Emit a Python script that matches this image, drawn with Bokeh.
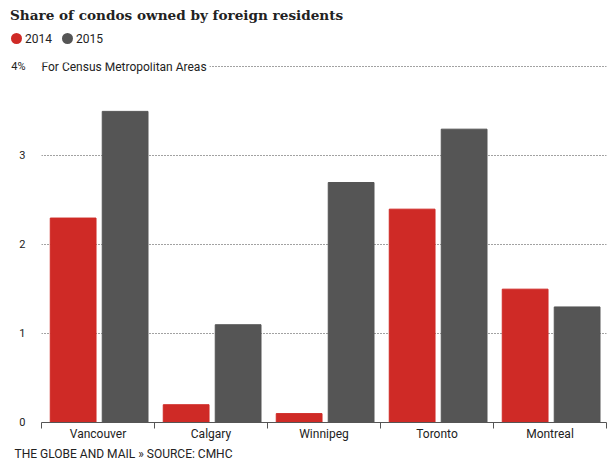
from bokeh.plotting import figure
from bokeh.layouts import column
from bokeh.models import (ColumnDataSource, Div, FixedTicker, Label, Range1d, Title)
from bokeh.embed import file_html
from bokeh.resources import INLINE

# ---- data ----
cities = ["Vancouver", "Calgary", "Winnipeg", "Toronto", "Montreal"]
share_2014 = [2.3, 0.2, 0.1, 2.4, 1.5]
share_2015 = [3.5, 1.1, 2.7, 3.3, 1.3]
years = ["2014", "2015"]
y_ticks = [0, 1, 2, 3, 4]
y_tick_labels = {0: "0", 1: "1", 2: "2", 3: "3", 4: "4%"}

RED = "#cf2a26"
GRAY = "#555555"
SANS = "Roboto"
W = 608

# ---- header (title + legend) as HTML ----
legend_html = ""
for i, (yr, col) in enumerate(zip(years, [RED, GRAY])):
    left = 11 + 51 * i
    legend_html += (
        f'<span style="position:absolute;left:{left}px;top:33px;width:11px;height:11px;'
        f'border-radius:50%;background:{col};"></span>'
        f'<span style="position:absolute;left:{left + 14}px;top:31px;line-height:16px;'
        f'font-family:Roboto;font-size:12px;color:#222222;white-space:nowrap;">{yr}</span>'
    )
header_html = (
    f'<div style="position:relative;width:{W}px;height:52px;">'
    '<span style="position:absolute;left:10px;top:6px;line-height:18px;'
    "font-family:'DejaVu Serif';font-weight:bold;font-size:13.6px;color:#222222;"
    'white-space:nowrap;">Share of condos owned by foreign residents</span>'
    + legend_html + '</div>'
)
hdr = Div(text=header_html, width=W, height=52, margin=0)

# ---- main chart ----
idx = list(range(len(cities)))
src = ColumnDataSource(dict(
    x14=[i + 0.28 for i in idx],
    x15=[i + 0.74 for i in idx],
    v14=share_2014,
    v15=share_2015,
))

p = figure(width=W, height=409, title=None,
           x_range=Range1d(0, 5), y_range=Range1d(0, 4.05),
           output_backend="svg", toolbar_location=None,
           min_border_left=41, min_border_right=2, min_border_top=10, min_border_bottom=0)
p.outline_line_color = None

p.vbar(x="x14", top="v14", width=0.405, source=src, color=RED, line_color=RED)
p.vbar(x="x15", top="v15", width=0.405, source=src, color=GRAY, line_color=GRAY)

# x axis
xa = p.xaxis[0]
xa.ticker = FixedTicker(ticks=[i + 0.5 for i in idx], minor_ticks=list(range(len(cities) + 1)))
xa.major_label_overrides = {i + 0.5: c for i, c in zip(idx, cities)}
xa.major_tick_out = 0
xa.major_tick_in = 0
xa.minor_tick_out = 6
xa.minor_tick_in = 0
xa.minor_tick_line_color = "#555555"
xa.axis_line_color = "#555555"
xa.major_label_text_font = SANS
xa.major_label_text_font_size = "12px"
xa.major_label_text_color = "#222222"
xa.major_label_standoff = -2

# y axis
ya = p.yaxis[0]
ya.ticker = FixedTicker(ticks=y_ticks)
ya.major_label_overrides = y_tick_labels
ya.axis_line_color = None
ya.major_tick_line_color = None
ya.minor_tick_line_color = None
ya.major_label_text_font = SANS
ya.major_label_text_font_size = "11px"
ya.major_label_text_color = "#222222"
ya.major_label_standoff = 10

p.xgrid.grid_line_color = None
p.ygrid.ticker = FixedTicker(ticks=[1, 2, 3, 4])
p.ygrid.grid_line_color = "#444444"
p.ygrid.grid_line_dash = "1 2"
p.ygrid.grid_line_width = 1

note = Label(x=0, y=4, text="For Census Metropolitan Areas ", text_baseline="middle",
             text_font=SANS, text_font_size="12px", text_color="#222222",
             background_fill_color="white")
p.add_layout(note)

foot = Title(text="THE GLOBE AND MAIL \u00bb SOURCE: CMHC", align="left",
             text_font=SANS, text_font_size="12px", text_font_style="normal",
             text_color="#222222", offset=-27, standoff=2)
p.add_layout(foot, "below")

layout = column(hdr, p, spacing=0)
open("out.html", "w").write(file_html(layout, INLINE))
